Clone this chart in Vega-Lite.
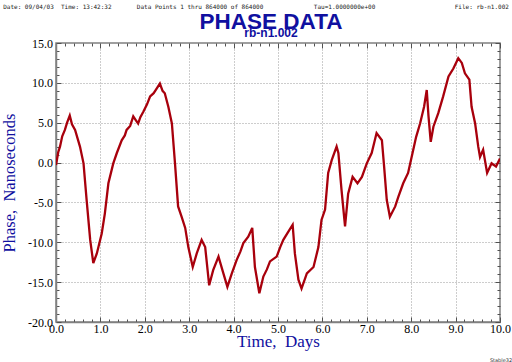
{
  "$schema": "https://vega.github.io/schema/vega-lite/v6.json",
  "width": 444,
  "height": 279,
  "autosize": "none",
  "padding": {"left": 56, "top": 43, "right": 12, "bottom": 40},
  "background": "white",
  "config": {"view": {"stroke": "#808080", "strokeWidth": 1.5}},
  "title": {
    "text": "PHASE DATA",
    "subtitle": "rb-n1.002",
    "font": "Liberation Sans",
    "fontSize": 22.5,
    "fontWeight": "bold",
    "color": "#1010a0",
    "subtitleFont": "Liberation Sans",
    "subtitleFontSize": 12,
    "subtitleFontWeight": "bold",
    "subtitleColor": "#1010a0",
    "subtitlePadding": -5,
    "anchor": "middle",
    "frame": "group",
    "dx": -7,
    "offset": -36
  },
  "data": {
    "values": [
      {"t": 0.0, "v": -0.3}, {"t": 0.05, "v": 1.3}, {"t": 0.09, "v": 2.0}, {"t": 0.14, "v": 3.3}, {"t": 0.2, "v": 4.1}, {"t": 0.25, "v": 5.0}, {"t": 0.31, "v": 5.9},
      {"t": 0.36, "v": 4.8}, {"t": 0.43, "v": 4.1}, {"t": 0.54, "v": 2.0}, {"t": 0.62, "v": -0.1},
      {"t": 0.69, "v": -4.7}, {"t": 0.77, "v": -9.7}, {"t": 0.84, "v": -12.6}, {"t": 0.92, "v": -11.4},
      {"t": 1.03, "v": -8.9}, {"t": 1.1, "v": -6.4}, {"t": 1.18, "v": -2.6}, {"t": 1.29, "v": -0.1},
      {"t": 1.37, "v": 1.2}, {"t": 1.48, "v": 2.8}, {"t": 1.55, "v": 3.4}, {"t": 1.59, "v": 4.1}, {"t": 1.67, "v": 4.6}, {"t": 1.74, "v": 5.8},
      {"t": 1.8, "v": 5.3}, {"t": 1.85, "v": 4.9}, {"t": 1.9, "v": 5.7}, {"t": 1.97, "v": 6.4}, {"t": 2.05, "v": 7.3}, {"t": 2.12, "v": 8.3}, {"t": 2.2, "v": 8.7}, {"t": 2.27, "v": 9.3},
      {"t": 2.34, "v": 9.9}, {"t": 2.4, "v": 9.0}, {"t": 2.45, "v": 8.7}, {"t": 2.53, "v": 7.0}, {"t": 2.61, "v": 4.9},
      {"t": 2.68, "v": -0.1}, {"t": 2.75, "v": -5.5}, {"t": 2.83, "v": -6.8}, {"t": 2.91, "v": -8.2},
      {"t": 2.98, "v": -10.6}, {"t": 3.08, "v": -13.1}, {"t": 3.17, "v": -11.4}, {"t": 3.28, "v": -9.7},
      {"t": 3.36, "v": -10.6}, {"t": 3.45, "v": -15.4}, {"t": 3.54, "v": -13.5}, {"t": 3.66, "v": -11.8},
      {"t": 3.77, "v": -13.9}, {"t": 3.86, "v": -15.6}, {"t": 3.96, "v": -13.9}, {"t": 4.07, "v": -12.2},
      {"t": 4.15, "v": -11.2}, {"t": 4.22, "v": -10.1}, {"t": 4.33, "v": -9.3}, {"t": 4.42, "v": -8.2}, {"t": 4.48, "v": -13.1},
      {"t": 4.58, "v": -16.4}, {"t": 4.67, "v": -14.3}, {"t": 4.75, "v": -13.4}, {"t": 4.82, "v": -12.4}, {"t": 4.97, "v": -11.8},
      {"t": 5.05, "v": -10.6}, {"t": 5.12, "v": -9.7}, {"t": 5.23, "v": -8.7}, {"t": 5.33, "v": -7.8}, {"t": 5.38, "v": -11.4},
      {"t": 5.46, "v": -14.7}, {"t": 5.53, "v": -15.8}, {"t": 5.65, "v": -13.9}, {"t": 5.8, "v": -13.1},
      {"t": 5.91, "v": -10.6}, {"t": 5.98, "v": -7.2}, {"t": 6.06, "v": -5.9}, {"t": 6.13, "v": -1.3},
      {"t": 6.21, "v": 0.3}, {"t": 6.32, "v": 2.0}, {"t": 6.36, "v": 1.2}, {"t": 6.43, "v": -3.4},
      {"t": 6.51, "v": -8.0}, {"t": 6.58, "v": -3.9}, {"t": 6.68, "v": -1.8}, {"t": 6.79, "v": -2.6},
      {"t": 6.89, "v": -1.8}, {"t": 7.0, "v": -0.1}, {"t": 7.11, "v": 1.2}, {"t": 7.22, "v": 3.7},
      {"t": 7.34, "v": 2.8}, {"t": 7.39, "v": -0.5}, {"t": 7.45, "v": -4.7}, {"t": 7.52, "v": -6.8},
      {"t": 7.64, "v": -5.5}, {"t": 7.71, "v": -4.3}, {"t": 7.82, "v": -2.6}, {"t": 7.93, "v": -1.3},
      {"t": 8.01, "v": 0.7}, {"t": 8.11, "v": 3.2}, {"t": 8.2, "v": 4.9}, {"t": 8.29, "v": 7.0},
      {"t": 8.35, "v": 9.1}, {"t": 8.39, "v": 5.8}, {"t": 8.44, "v": 2.6}, {"t": 8.5, "v": 4.5},
      {"t": 8.61, "v": 6.2}, {"t": 8.72, "v": 8.3}, {"t": 8.84, "v": 10.8}, {"t": 8.95, "v": 11.8},
      {"t": 9.06, "v": 13.1}, {"t": 9.14, "v": 12.5}, {"t": 9.21, "v": 11.2}, {"t": 9.31, "v": 10.4},
      {"t": 9.36, "v": 7.0}, {"t": 9.44, "v": 4.9}, {"t": 9.51, "v": 2.0}, {"t": 9.55, "v": 0.7},
      {"t": 9.62, "v": 1.6}, {"t": 9.71, "v": -1.3}, {"t": 9.81, "v": -0.1}, {"t": 9.91, "v": -0.5},
      {"t": 10.0, "v": 0.5}
    ]
  },
  "layer": [
    {
      "mark": {"type": "line", "color": "#a8000c", "strokeWidth": 2.3, "clip": true},
      "encoding": {
        "x": {
          "field": "t", "type": "quantitative",
          "scale": {"domain": [0, 10], "nice": false, "zero": false},
          "axis": {
            "orient": "bottom",
            "values": [0,0.2,0.4,0.6,0.8,1,1.2,1.4,1.6,1.8,2,2.2,2.4,2.6,2.8,3,3.2,3.4,3.6,3.8,4,4.2,4.4,4.6,4.8,5,5.2,5.4,5.6,5.8,6,6.2,6.4,6.6,6.8,7,7.2,7.4,7.6,7.8,8,8.2,8.4,8.6,8.8,9,9.2,9.4,9.6,9.8,10],
            "labelExpr": "abs(datum.value - round(datum.value)) < 0.001 ? format(datum.value, '.1f') : ''",
            "tickSize": {"condition": {"test": "abs(datum.value - round(datum.value)) < 0.001", "value": -5}, "value": -3},
            "tickColor": "#505050",
            "grid": true,
            "gridOpacity": {"condition": {"test": "abs(datum.value - round(datum.value)) < 0.001 && datum.value > 0 && datum.value < 10", "value": 1}, "value": 0},
            "gridColor": "#9a9a9a",
            "gridDash": [1, 2],
            "domainColor": "#808080",
            "domainWidth": 1.5,
            "labelFont": "Liberation Serif",
            "labelFontSize": 12,
            "labelColor": "black",
            "labelPadding": 6,
            "labelBaseline": "top",
            "labelFlush": false,
            "labelOverlap": false,
            "title": "Time,\u00a0\u00a0Days",
            "titleFont": "Liberation Serif",
            "titleFontSize": 17,
            "titleFontWeight": "normal",
            "titleColor": "#1010a0",
            "titleY": 24,
            "titleBaseline": "alphabetic"
          }
        },
        "y": {
          "field": "v", "type": "quantitative",
          "scale": {"domain": [-20, 15], "nice": false, "zero": false},
          "axis": {
            "orient": "left",
            "values": [-20,-19,-18,-17,-16,-15,-14,-13,-12,-11,-10,-9,-8,-7,-6,-5,-4,-3,-2,-1,0,1,2,3,4,5,6,7,8,9,10,11,12,13,14,15],
            "labelExpr": "datum.value % 5 == 0 ? (datum.value < 0 ? '-' + format(-datum.value, '.1f') : format(datum.value, '.1f')) : ''",
            "tickSize": {"condition": {"test": "datum.value % 5 == 0", "value": -5}, "value": -3},
            "tickColor": "#505050",
            "grid": true,
            "gridOpacity": {"condition": {"test": "datum.value % 5 == 0 && datum.value > -20 && datum.value < 15", "value": 1}, "value": 0},
            "gridColor": "#9a9a9a",
            "gridDash": [1, 2],
            "domainColor": "#808080",
            "domainWidth": 1.5,
            "labelFont": "Liberation Serif",
            "labelFontSize": 12,
            "labelColor": "black",
            "labelPadding": 8.5,
            "labelBaseline": "middle",
            "labelFlush": false,
            "labelOverlap": false,
            "title": "Phase,\u00a0\u00a0Nanoseconds",
            "titleFont": "Liberation Serif",
            "titleFontSize": 16.5,
            "titleFontWeight": "normal",
            "titleColor": "#1010a0",
            "titleAngle": 270,
            "titleX": -47,
            "titleY": 139.5,
            "titleBaseline": "middle",
            "titleAlign": "center"
          }
        }
      }
    },
    {
      "mark": {"type": "line", "opacity": 0},
      "encoding": {
        "x": {
          "field": "t", "type": "quantitative",
          "scale": {"domain": [0, 10], "nice": false, "zero": false},
          "axis": {
            "orient": "top",
            "values": [0,0.2,0.4,0.6,0.8,1,1.2,1.4,1.6,1.8,2,2.2,2.4,2.6,2.8,3,3.2,3.4,3.6,3.8,4,4.2,4.4,4.6,4.8,5,5.2,5.4,5.6,5.8,6,6.2,6.4,6.6,6.8,7,7.2,7.4,7.6,7.8,8,8.2,8.4,8.6,8.8,9,9.2,9.4,9.6,9.8,10],
            "labels": false,
            "grid": false,
            "domain": false,
            "tickSize": {"condition": {"test": "abs(datum.value - round(datum.value)) < 0.001", "value": -5}, "value": -3},
            "tickColor": "#505050",
            "title": "Date: 09/04/03\u00a0\u00a0Time: 13:42:32\u00a0\u00a0\u00a0\u00a0\u00a0\u00a0\u00a0Data Points 1 thru 864000 of 864000\u00a0\u00a0\u00a0\u00a0\u00a0\u00a0\u00a0\u00a0\u00a0\u00a0\u00a0\u00a0\u00a0\u00a0Tau=1.0000000e+00\u00a0\u00a0\u00a0\u00a0\u00a0\u00a0\u00a0\u00a0\u00a0\u00a0\u00a0\u00a0\u00a0\u00a0\u00a0\u00a0\u00a0\u00a0\u00a0\u00a0\u00a0\u00a0File: rb-n1.002",
            "titleFont": "DejaVu Sans Mono",
            "titleFontSize": 6,
            "titleFontWeight": "normal",
            "titleColor": "#202020",
            "titleAlign": "left",
            "titleAnchor": "start",
            "titleX": -53.3,
            "titleY": -37,
            "titleBaseline": "middle"
          }
        },
        "y": {
          "field": "v", "type": "quantitative",
          "scale": {"domain": [-20, 15], "nice": false, "zero": false},
          "axis": {
            "orient": "right",
            "values": [-20,-19,-18,-17,-16,-15,-14,-13,-12,-11,-10,-9,-8,-7,-6,-5,-4,-3,-2,-1,0,1,2,3,4,5,6,7,8,9,10,11,12,13,14,15],
            "labels": false,
            "grid": false,
            "domain": false,
            "tickSize": {"condition": {"test": "datum.value % 5 == 0", "value": -5}, "value": -3},
            "tickColor": "#505050",
            "title": "Stable32",
            "titleFont": "DejaVu Sans",
            "titleFontSize": 5,
            "titleFontWeight": "normal",
            "titleColor": "#303030",
            "titleAngle": 0,
            "titleAlign": "center",
            "titleBaseline": "middle",
            "titleX": 0.5,
            "titleY": 316.5
          }
        }
      }
    }
  ],
  "resolve": {"axis": {"x": "independent", "y": "independent"}}
}
